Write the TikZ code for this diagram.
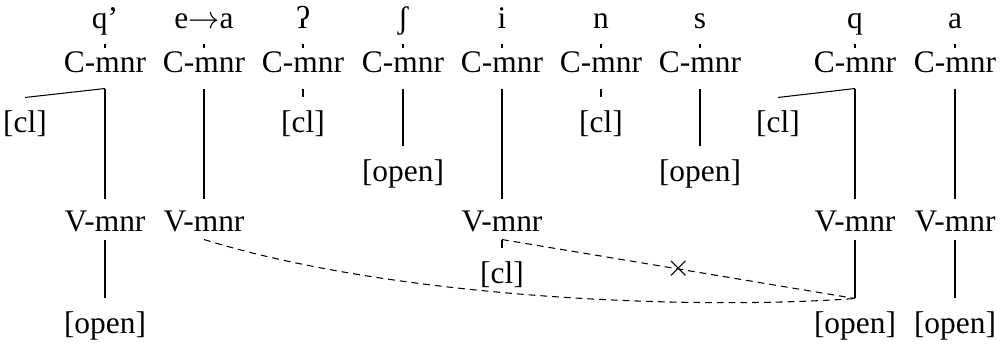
\documentclass[tikz,border=0pt]{standalone}
\usepackage{fontspec}
\setmainfont{Liberation Serif}
\usetikzlibrary{positioning}
\tikzset{
  seg/.style={anchor=base,inner sep=0pt,text height=8pt,text depth=5.73pt},
  mnrC/.style={anchor=base,inner sep=0pt,text height=8.79pt,text depth=6.11pt},
  mnrV/.style={anchor=base,inner sep=0pt,text height=11.84pt,text depth=3.06pt},
  feat/.style={anchor=base,inner sep=0pt,text height=12.99pt,text depth=3pt},
  assoc/.style={dash pattern=on 2.6pt off 1.9pt}
}

\begin{document}
\begin{tikzpicture}[x=0.382pt,y=-0.382pt,font=\large]
  \useasboundingbox (0,0) rectangle (1001,344);
  % segments and their C-manner nodes
  \foreach \n/\x/\s in {1/105/q',2/204/{e$\rightarrow$a},3/303/ʔ,4/403/ʃ,5/502/i,6/601/n,7/700/s,8/855/q,9/955/a} {
    \node[seg] (s\n) at (\x,28) {\s};
    \node[mnrC] (c\n) at (\x,72) {C-mnr};
    \draw (s\n.south) -- (c\n.north);
  }
  % features under C-mnr
  \node[feat] (clL) at (25,132) {[cl]};
  \node[feat] (cl3) at (303,132) {[cl]};
  \node[feat] (cl6) at (601,132) {[cl]};
  \node[feat] (clR) at (778,132) {[cl]};
  \node[feat] (op4) at (403,181) {[open]};
  \node[feat] (op7) at (700,181) {[open]};
  \foreach \a/\b in {c1/clL,c3/cl3,c4/op4,c6/cl6,c7/op7,c8/clR}
    \draw (\a.south) -- (\b.north);
  % V-manner nodes
  \foreach \n/\x in {1/105,2/204,5/502,8/855,9/955} {
    \node[mnrV] (v\n) at (\x,231) {V-mnr};
    \draw (c\n.south) -- (v\n.north);
  }
  \node[feat] (op1) at (105,333) {[open]};
  \node[feat] (cl5) at (502,283) {[cl]};
  \node[feat] (op8) at (855,333) {[open]};
  \node[feat] (op9) at (955,333) {[open]};
  \foreach \a/\b in {v1/op1,v5/cl5,v8/op8,v9/op9}
    \draw (\a.south) -- (\b.north);
  % spreading
  \draw[assoc] (v5.south) -- node[inner sep=0pt] (block) {$\times$} (op8.north);
  \draw[assoc] (v2.south) .. controls (400,300) and (700,310) .. (op8.north);
\end{tikzpicture}
\end{document}
